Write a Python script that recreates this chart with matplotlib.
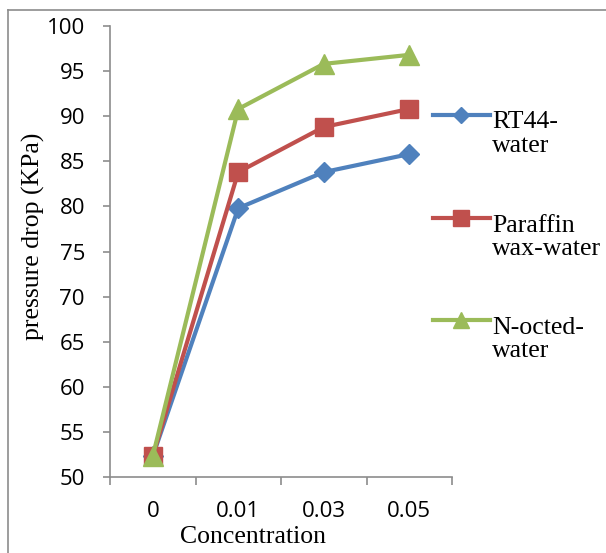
import matplotlib.pyplot as plt
from matplotlib.lines import Line2D

concentration = ["0", "0.01", "0.03", "0.05"]
rt44_water = [52.3, 79.8, 83.8, 85.8]
paraffin_wax_water = [52.3, 83.8, 88.8, 90.8]
n_octed_water = [52.3, 90.8, 95.8, 96.8]

series_labels = ["RT44-\nwater", "Paraffin\nwax-water", "N-octed-\nwater"]
series_colors = ["#4F81BD", "#C0504D", "#9BBB59"]
series_markers = ["D", "s", "^"]
series_sizes = [10, 13, 14]

serif = "Liberation Serif"
sans = "Open Sans"

fig = plt.figure(figsize=(6.06, 5.53), dpi=100)
ax = fig.add_axes([110 / 606, 1 - 477 / 553, 342 / 606, 451 / 553])

x = range(len(concentration))
for vals, color, mk, ms in zip(
    [rt44_water, paraffin_wax_water, n_octed_water],
    series_colors, series_markers, series_sizes
):
    ax.plot(x, vals, color=color, lw=3, marker=mk, ms=ms, mec=color, mfc=color)

ax.set_xlim(-0.5, len(concentration) - 0.5)
ax.set_ylim(50, 100)
ax.set_yticks(range(50, 101, 5))
ax.set_xticks(list(x))
ax.set_xticklabels(concentration, fontfamily=sans, fontsize=16)
ax.set_xticks([i - 0.5 for i in range(len(concentration) + 1)], minor=True)

for lab in ax.get_yticklabels():
    lab.set_fontfamily(sans)
    lab.set_fontsize(16)

gray = "#8c8c8c"
for side in ["top", "right"]:
    ax.spines[side].set_visible(False)
for side in ["left", "bottom"]:
    ax.spines[side].set_color(gray)
    ax.spines[side].set_linewidth(1.2)

ax.tick_params(axis="y", direction="out", length=5, width=1.2, color=gray, pad=13)
ax.tick_params(axis="x", which="major", length=0, pad=17)
ax.tick_params(axis="x", which="minor", direction="out", length=6, width=1.2, color=gray)

ax.set_xlabel("Concentration", fontfamily=serif, fontsize=18.5)
ax.xaxis.label.set_va("center")
ax.xaxis.set_label_coords((253 - 110) / 342, (477 - 537) / 451)
ax.set_ylabel("pressure drop (KPa)", fontfamily=serif, fontsize=18.5)
ax.yaxis.label.set_va("center")
ax.yaxis.set_label_coords((33 - 110) / 342, (477 - 236) / 451)

# legend drawn by hand so the marker sits on the first text line
leg_y = [0.803, 0.574, 0.348]
for yy, label, color, mk, ms in zip(leg_y, series_labels, series_colors,
                                    series_markers, series_sizes):
    ax.add_line(Line2D([0.944, 1.111], [yy, yy], transform=ax.transAxes,
                       color=color, lw=3, clip_on=False))
    ax.add_line(Line2D([1.027], [yy], transform=ax.transAxes, color=color,
                       marker=mk, ms=ms * 0.85, mec=color, mfc=color, clip_on=False))
    # baseline of a two-line text is the last line's baseline
    ax.text(1.117, yy - 0.082, label, transform=ax.transAxes, fontfamily=serif,
            fontsize=18.6, va="baseline", ha="left", linespacing=1.08)

# outer chart frame (only top and left edges visible)
fig.add_artist(Line2D([8 / 606, 1], [1 - 10 / 553, 1 - 10 / 553],
                      transform=fig.transFigure, color=gray, lw=1.2))
fig.add_artist(Line2D([8 / 606, 8 / 606], [0, 1 - 10 / 553],
                      transform=fig.transFigure, color=gray, lw=1.2))

fig.savefig("out.png", dpi=100)
